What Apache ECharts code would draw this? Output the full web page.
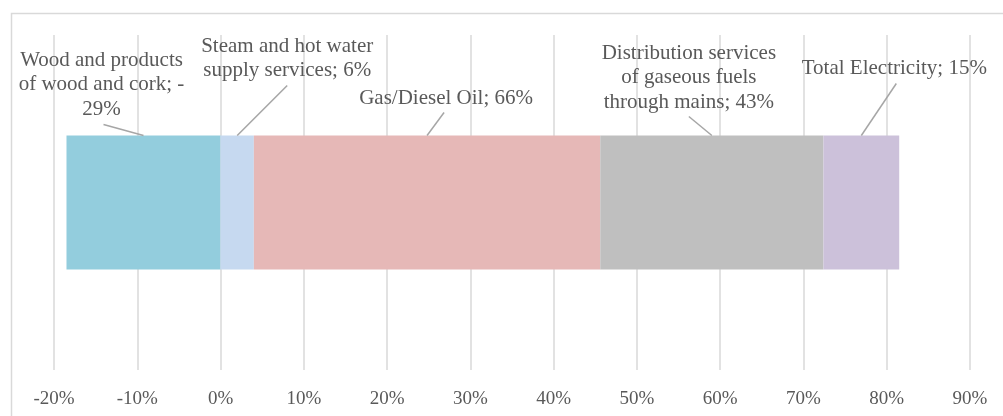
<!DOCTYPE html>
<html>
<head>
<meta charset="utf-8">
<script src="https://cdn.jsdelivr.net/npm/echarts@6/dist/echarts.min.js"></script>
<style>html,body{margin:0;padding:0;background:#fff}#c{width:1003px;height:416px}</style>
</head>
<body>
<div id="c"></div>
<script>
// ---- data ----
const categoryNames = [
  'Wood and products\nof wood and cork',
  'Steam and hot water\nsupply services',
  'Gas/Diesel Oil',
  'Distribution services\nof gaseous fuels\nthrough mains',
  'Total Electricity'
];
const barValues = [-18.5, 4.0, 41.6, 26.8, 9.1];     // bar lengths (%)
const labelValues = [-29, 6, 66, 43, 15];           // values printed in the labels (%)
const xTicks = { min: -20, max: 90, step: 10 };

// ---- styles / layout ----
const colors = ['#93CDDD', '#C6D9F0', '#E6B8B7', '#BFBFBF', '#CCC1DA'];
// [textDx, textDy, lineEndDx, lineEndDy] relative to the top-centre of each segment
const labelOffsets = [
  [-42, -51, -40, -11],
  [50, -77, 50, -50],
  [19, -37, 17, -23],
  [-23, -58, -23, -19],
  [33, -67, 35, -52]
];
const textColor = '#595959';
const fontFam = '"Liberation Serif", "Times New Roman", serif';
const barRatio = 0.4;

function labelText(i) {
  const v = labelValues[i];
  const num = v < 0 ? '-\n' + Math.abs(v) : String(v);
  return categoryNames[i] + '; ' + num + '%';
}

// segment ranges (negative and positive values stack separately)
const ranges = [];
let posAcc = 0, negAcc = 0;
barValues.forEach(v => {
  if (v >= 0) { ranges.push([posAcc, posAcc + v, 0]); posAcc += v; }
  else { ranges.push([negAcc + v, negAcc, 0]); negAcc += v; }
});

const series = barValues.map((v, i) => ({
  name: categoryNames[i].replace(/\n/g, ' '),
  type: 'bar',
  stack: 'total',
  barWidth: (barRatio * 100) + '%',
  itemStyle: { color: colors[i] },
  silent: true,
  data: [v]
}));

series.push({
  type: 'custom',
  coordinateSystem: 'cartesian2d',
  silent: true,
  z: 10,
  data: ranges,
  renderItem: function (params, api) {
    const i = params.dataIndex;
    const mid = (api.value(0) + api.value(1)) / 2;
    const c = api.coord([mid, 0]);
    const band = api.size([0, 1])[1];
    const top = c[1] - band * barRatio / 2;
    const o = labelOffsets[i];
    return {
      type: 'group',
      children: [
        {
          type: 'line',
          shape: { x1: c[0], y1: top, x2: c[0] + o[2], y2: top + o[3] },
          style: { stroke: '#A6A6A6', lineWidth: 1.5 }
        },
        {
          type: 'text',
          x: c[0] + o[0],
          y: top + o[1],
          style: {
            text: labelText(i),
            align: 'center',
            verticalAlign: 'middle',
            fontSize: 21,
            lineHeight: 24.5,
            fontFamily: fontFam,
            fill: textColor
          }
        }
      ]
    };
  }
});

const chart = echarts.init(document.getElementById('c'), null, { renderer: 'canvas' });
chart.setOption({
  animation: false,
  backgroundColor: '#ffffff',
  graphic: [{
    type: 'rect',
    left: 9, top: 11,
    shape: { width: 1010, height: 420 },
    style: { fill: 'none', stroke: '#D9D9D9', lineWidth: 1.5 },
    silent: true,
    z: -10
  }],
  grid: { left: 54, right: 33, top: 35, bottom: 46, containLabel: false },
  xAxis: {
    type: 'value',
    min: xTicks.min,
    max: xTicks.max,
    interval: xTicks.step,
    axisLine: { show: false },
    axisTick: { show: false },
    splitLine: { show: true, lineStyle: { color: '#D9D9D9', width: 1.5 } },
    axisLabel: {
      formatter: v => v + '%',
      color: textColor,
      fontSize: 19,
      fontFamily: fontFam,
      margin: 20
    }
  },
  yAxis: {
    type: 'category',
    data: ['All'],
    axisLine: { show: false },
    axisTick: { show: false },
    axisLabel: { show: false },
    splitLine: { show: false }
  },
  series: series
});
</script>
</body>
</html>
